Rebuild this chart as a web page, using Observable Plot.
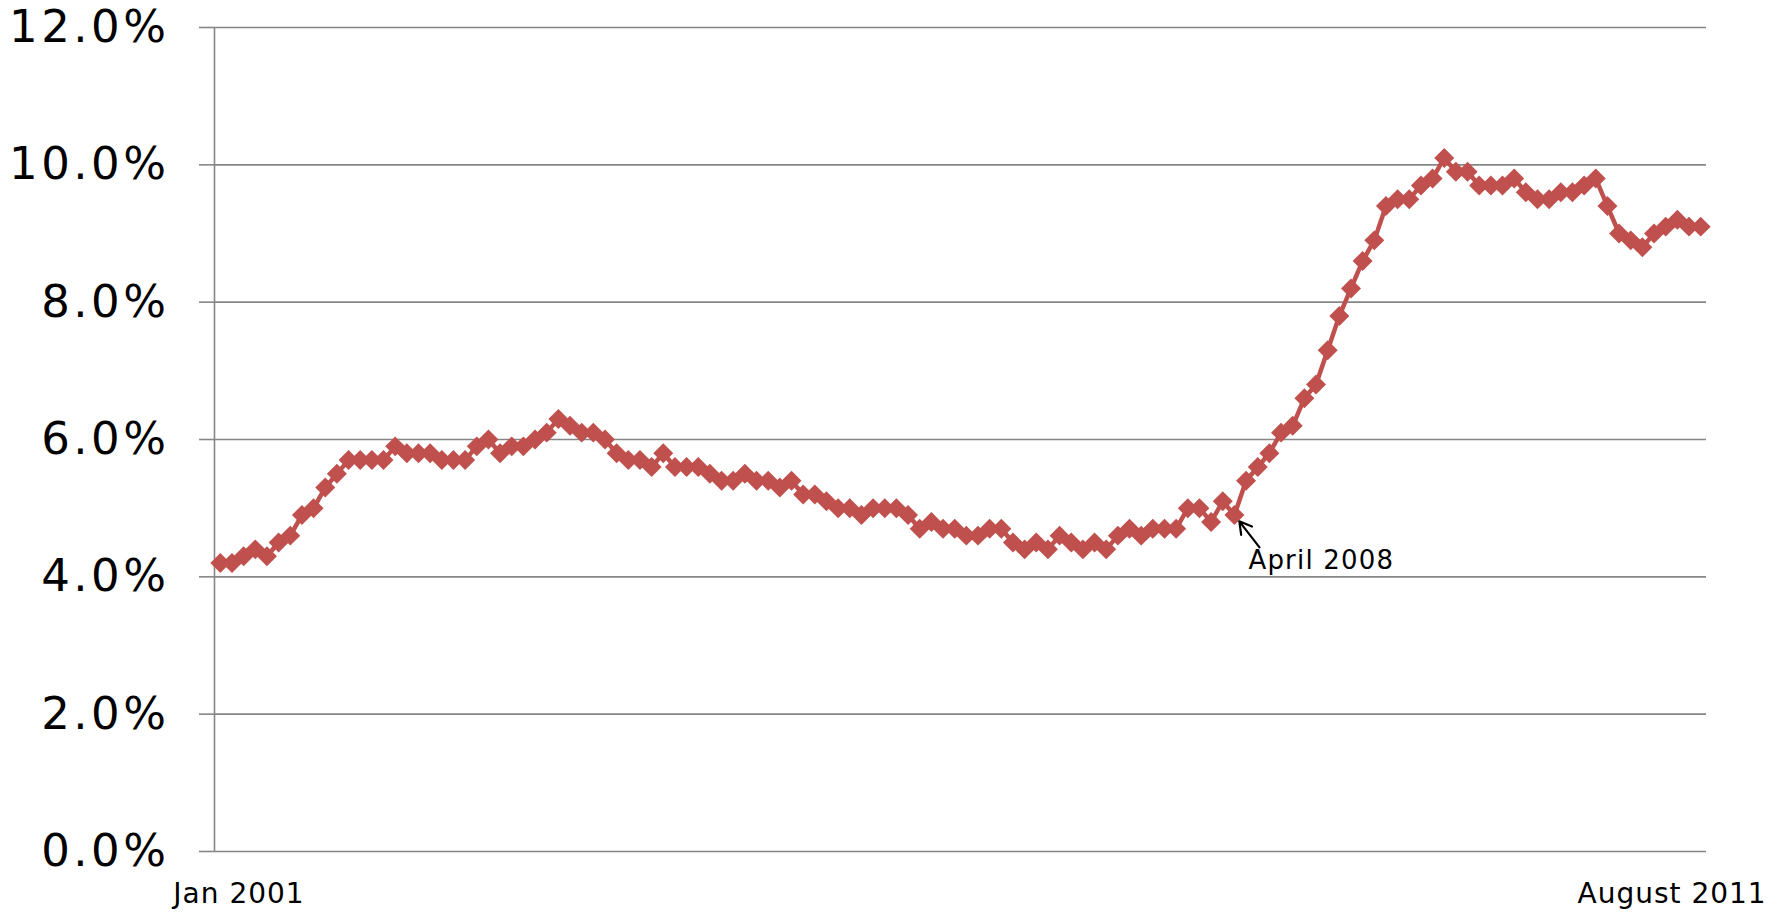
<!DOCTYPE html>
<html><head><meta charset="utf-8">
<script src="https://cdn.jsdelivr.net/npm/d3@7"></script>
<script src="https://cdn.jsdelivr.net/npm/@observablehq/plot@0.6"></script>
<style>
body{margin:0;background:#fff;overflow:hidden}
g[aria-label="y-axis tick label"] text{letter-spacing:3.5px}
g.xlab text{letter-spacing:1px}
g.annot text{letter-spacing:1.2px}
</style>
</head><body><div id="chart"></div>
<script>
// Monthly values, Jan 2001 .. Aug 2011 (percent)
const rates2001 = [4.2,4.2,4.3,4.4,4.3,4.5,4.6,4.9,5.0,5.3,5.5,5.7];
const rates2002 = [5.7,5.7,5.7,5.9,5.8,5.8,5.8,5.7,5.7,5.7,5.9,6.0];
const rates2003 = [5.8,5.9,5.9,6.0,6.1,6.3,6.2,6.1,6.1,6.0,5.8,5.7];
const rates2004 = [5.7,5.6,5.8,5.6,5.6,5.6,5.5,5.4,5.4,5.5,5.4,5.4];
const rates2005 = [5.3,5.4,5.2,5.2,5.1,5.0,5.0,4.9,5.0,5.0,5.0,4.9];
const rates2006 = [4.7,4.8,4.7,4.7,4.6,4.6,4.7,4.7,4.5,4.4,4.5,4.4];
const rates2007 = [4.6,4.5,4.4,4.5,4.4,4.6,4.7,4.6,4.7,4.7,4.7,5.0];
const rates2008 = [5.0,4.8,5.1,4.9,5.4,5.6,5.8,6.1,6.2,6.6,6.8,7.3];
const rates2009 = [7.8,8.2,8.6,8.9,9.4,9.5,9.5,9.7,9.8,10.1,9.9,9.9];
const rates2010 = [9.7,9.7,9.7,9.8,9.6,9.5,9.5,9.6,9.6,9.7,9.8,9.4];
const rates2011 = [9.0,8.9,8.8,9.0,9.1,9.2,9.1,9.1];

const yTicks = [0, 2, 4, 6, 8, 10, 12];
const firstLabel = "Jan 2001";
const lastLabel = "August 2011";
const annotationLabel = "April 2008";
const annotationIndex = 87;   // April 2008 = month 87 counted from Jan 2001

const rates = [].concat(rates2001, rates2002, rates2003, rates2004, rates2005,
  rates2006, rates2007, rates2008, rates2009, rates2010, rates2011);
const data = rates.map((rate, i) => ({i, rate}));
const n = rates.length;
const red = "#C0504D";
const grey = "#868686";
const ann = data[annotationIndex];

const chart = Plot.plot({
  width: 1783,
  height: 912,
  marginLeft: 214,
  marginRight: 77,
  marginTop: 27,
  marginBottom: 61,
  style: {fontFamily: "'DejaVu Sans', Verdana, sans-serif", background: "white", color: "black", overflow: "visible"},
  x: {domain: [-0.5, n - 0.5], axis: null},
  y: {domain: [0, 12], axis: null},
  marks: [
    Plot.gridY(yTicks, {stroke: grey, strokeOpacity: 1, strokeWidth: 1.6}),
    Plot.axisY(yTicks, {
      tickSize: 15, tickPadding: 30, stroke: grey, strokeWidth: 1.6,
      fill: "black", fontSize: 45, label: null,
      tickFormat: d => d.toFixed(1) + "%"
    }),
    Plot.ruleX([-0.5], {stroke: grey, strokeWidth: 1.6}),
    Plot.line(data, {x: "i", y: "rate", stroke: red, strokeWidth: 4.5, curve: "linear"}),
    Plot.dot(data, {x: "i", y: "rate", symbol: "diamond2", r: 9, fill: red, stroke: null}),
    Plot.text([data[0]], {x: "i", frameAnchor: "bottom", text: () => firstLabel,
      textAnchor: "start", lineAnchor: "top", dx: -47, dy: 32, fontSize: 28, fill: "black", className: "xlab"}),
    Plot.text([data[n - 1]], {x: "i", frameAnchor: "bottom", text: () => lastLabel,
      textAnchor: "end", lineAnchor: "top", dx: 66, dy: 32, fontSize: 28, fill: "black", className: "xlab"}),
    Plot.arrow([ann], {
      x1: d => d.i + 2.15, y1: d => d.rate - 0.47,
      x2: "i", y2: "rate", insetEnd: 8,
      stroke: "black", strokeWidth: 2.2, headLength: 15
    }),
    Plot.text([ann], {x: "i", y: "rate", text: () => annotationLabel,
      textAnchor: "start", lineAnchor: "top", dx: 14, dy: 35, fontSize: 26, fill: "black", className: "annot"})
  ]
});
document.getElementById("chart").appendChild(chart);
</script>
</body></html>
